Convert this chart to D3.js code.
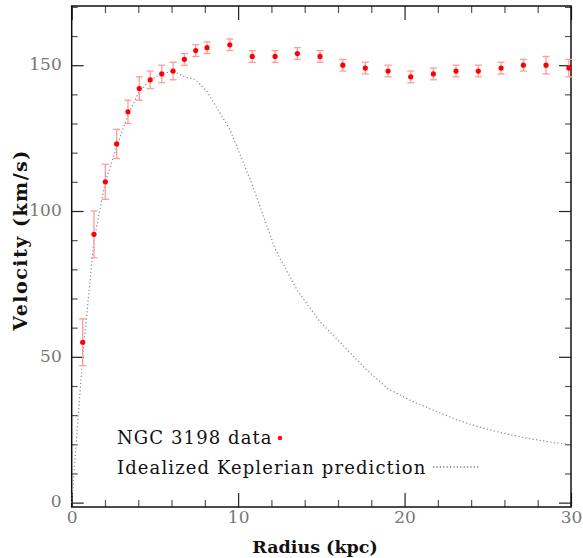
<!DOCTYPE html>
<html><head><meta charset="utf-8">
<script src="https://cdn.jsdelivr.net/npm/d3@7"></script>
<style>
body{margin:0;background:#fff;}
svg{display:block;}
</style></head>
<body>
<svg id="chart" width="583" height="558"></svg>
<script>
// Data
const radius   = [0.66,1.34,2.02,2.70,3.38,4.06,4.72,5.41,6.09,6.77,7.45,8.13,9.50,10.85,12.22,13.56,14.92,16.29,17.64,19.01,20.37,21.73,23.09,24.43,25.80,27.14,28.50,29.87];
const velocity = [55,92,110,123,134,142,145,147,148,152,155,156,157,153,153,154,153,150,149,148,146,147,148,148,149,150,150,149];
const errors   = [8,8,6,5,4,4,3,3,3,2,2,2,2,2,2,2,2,2,2,2,2,2,2,2,2,2,3,3];
const keplerR  = [0,0.66,1.34,2.02,2.70,3.38,4.06,4.72,5.41,6.09,6.77,7.45,8.13,9.50,10.85,12.22,13.56,14.92,16.29,17.64,19.01,20.37,21.73,23.09,24.43,25.80,27.14,28.50,29.87,30];
const keplerV  = [0,50,90,110,122,133,141,145,147,148,146,145,141,128,109,87,72.7,62,54,46,39,35,31.7,28.5,26,24,22.3,21,19.9,19.8];
const xTicks = [0,10,20,30];
const yTicks = [0,50,100,150];
const legendLabels = ["NGC 3198 data","Idealized Keplerian prediction"];
const xTitle = "Radius (kpc)";
const yTitle = "Velocity (km/s)";

const svg = d3.select("#chart");
const L=71.7, R=571, T=6, B=507;
const x = d3.scaleLinear().domain([0,30]).range([L,R]);
const y = d3.scaleLinear().domain([-1.5,170.3]).range([B,T]);

const minorX = d3.range(0,31,2).filter(v=>v%10!==0);
const minorY = d3.range(0,171,10).filter(v=>v%50!==0);

function styleAxis(g, color){
  g.select(".domain").remove();
  g.selectAll(".tick line").attr("stroke",color).attr("stroke-width",1.2);
}
// bottom
svg.append("g").attr("transform",`translate(0,${B})`)
  .call(d3.axisBottom(x).tickValues(minorX).tickSize(-7).tickFormat("")).call(g=>styleAxis(g,"#555"));
svg.append("g").attr("transform",`translate(0,${B})`)
  .call(d3.axisBottom(x).tickValues(xTicks).tickSize(-14).tickPadding(8).tickFormat(d3.format("d")))
  .call(g=>{styleAxis(g,"#222");g.selectAll("text").attr("font-family","DejaVu Serif").attr("font-size",17).attr("fill","#777").attr("y",4);});
// top
svg.append("g").attr("transform",`translate(0,${T})`)
  .call(d3.axisTop(x).tickValues(minorX).tickSize(-7).tickFormat("")).call(g=>styleAxis(g,"#555"));
svg.append("g").attr("transform",`translate(0,${T})`)
  .call(d3.axisTop(x).tickValues(xTicks).tickSize(-14).tickFormat("")).call(g=>styleAxis(g,"#222"));
// left
svg.append("g").attr("transform",`translate(${L},0)`)
  .call(d3.axisLeft(y).tickValues(minorY).tickSize(-6).tickFormat("")).call(g=>styleAxis(g,"#555"));
svg.append("g").attr("transform",`translate(${L},0)`)
  .call(d3.axisLeft(y).tickValues(yTicks).tickSize(-12).tickPadding(8).tickFormat(d3.format("d")))
  .call(g=>{styleAxis(g,"#222");g.selectAll("text").attr("font-family","DejaVu Serif").attr("font-size",17).attr("fill","#777").attr("x",-10).attr("dy","0.25em");});
// right
svg.append("g").attr("transform",`translate(${R},0)`)
  .call(d3.axisRight(y).tickValues(minorY).tickSize(-6).tickFormat("")).call(g=>styleAxis(g,"#555"));
svg.append("g").attr("transform",`translate(${R},0)`)
  .call(d3.axisRight(y).tickValues(yTicks).tickSize(-12).tickFormat("")).call(g=>styleAxis(g,"#222"));

// frame
svg.append("rect").attr("x",L).attr("y",T).attr("width",R-L).attr("height",B-T)
  .attr("fill","none").attr("stroke","#111").attr("stroke-width",1.5);

// Keplerian curve
const line = d3.line().x((d,i)=>x(keplerR[i])).y(d=>y(d));
svg.append("path").datum(keplerV).attr("d",line).attr("fill","none")
  .attr("stroke","#888").attr("stroke-width",1.2).attr("stroke-dasharray","1.2,2.4");

// error bars
const eb = svg.append("g").attr("stroke","#ff9a9a").attr("stroke-width",1.3);
velocity.forEach((v,i)=>{
  const cx=x(radius[i]), y1=y(v+errors[i]), y2=y(v-errors[i]);
  eb.append("line").attr("x1",cx).attr("x2",cx).attr("y1",y1).attr("y2",y2);
  eb.append("line").attr("x1",cx-3.5).attr("x2",cx+3.5).attr("y1",y1).attr("y2",y1);
  eb.append("line").attr("x1",cx-3.5).attr("x2",cx+3.5).attr("y1",y2).attr("y2",y2);
});
// points
svg.append("g").selectAll("circle").data(velocity).join("circle")
  .attr("cx",(d,i)=>x(radius[i])).attr("cy",d=>y(d)).attr("r",2.6).attr("fill","#ff0000");

// legend
const lg = svg.append("g").attr("font-family","DejaVu Serif").attr("font-size",18).attr("letter-spacing",1.1).attr("fill","#111");
lg.append("text").attr("x",117).attr("y",444).text(legendLabels[0]);
lg.append("circle").attr("cx",280).attr("cy",438).attr("r",2.2).attr("fill","#ff0000");
lg.append("text").attr("x",117).attr("y",474).text(legendLabels[1]);
lg.append("line").attr("x1",433).attr("x2",480).attr("y1",467).attr("y2",467)
  .attr("stroke","#333").attr("stroke-width",1.2).attr("stroke-dasharray","1.2,2.2");

// axis titles
svg.append("text").attr("x",315).attr("y",553).attr("text-anchor","middle")
  .attr("font-family","DejaVu Serif").attr("font-weight","bold").attr("font-size",17.5).attr("fill","#111").text(xTitle);
svg.append("text").attr("transform","translate(27,240) rotate(-90)").attr("text-anchor","middle")
  .attr("font-family","DejaVu Serif").attr("font-weight","bold").attr("font-size",19).attr("letter-spacing",1.5).attr("fill","#111").text(yTitle);
</script>
</body></html>
